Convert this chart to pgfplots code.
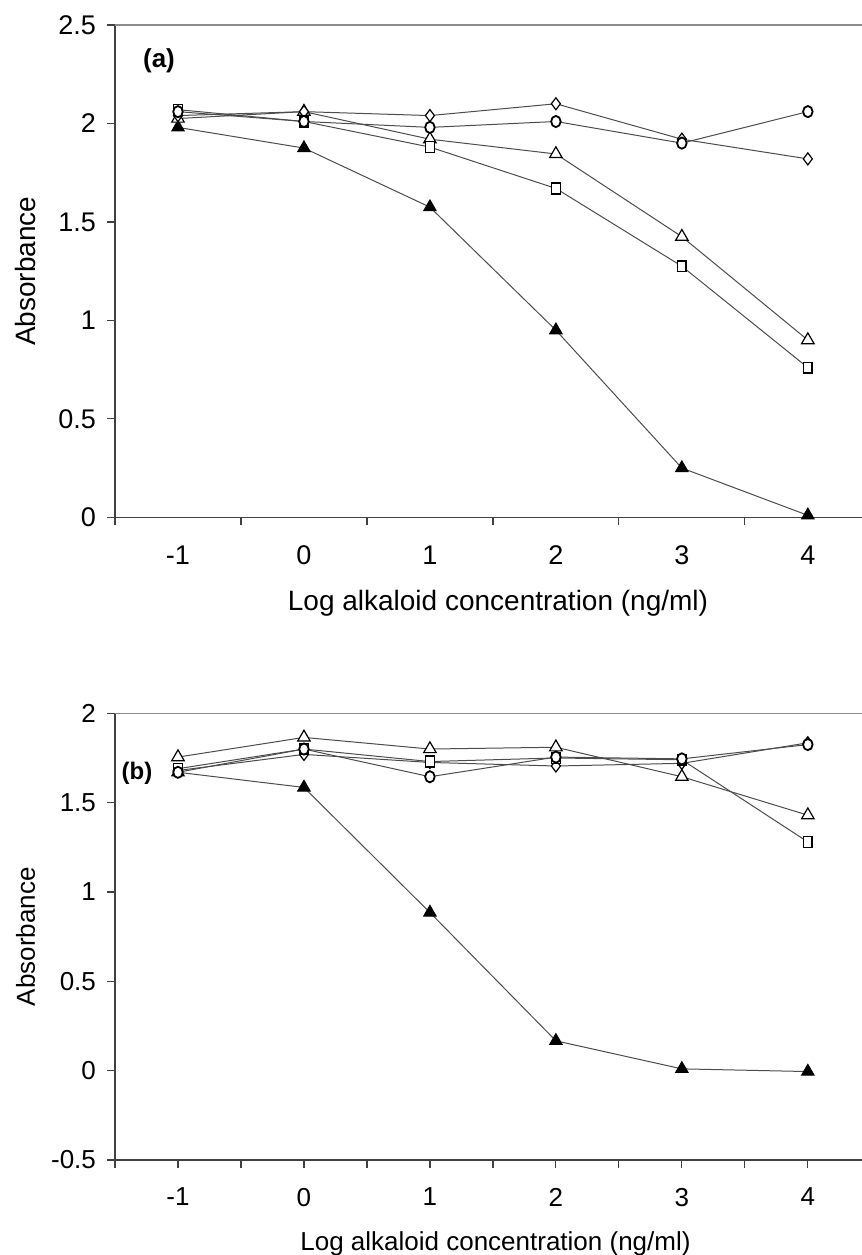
\documentclass[border=0pt]{standalone}
\usepackage{fontspec}
\setmainfont{Liberation Sans}
\usepackage{pgfplots}
\pgfplotsset{compat=1.18}

\pgfplotsset{
  panel/.style={
    scale only axis, width=373.5pt,
    xmin=-1.5, xmax=4.43,
    axis x line*=bottom, axis y line*=left,
    axis line style={black!75, line width=0.6pt, -},
    tick style={black!75, line width=0.6pt},
    tick align=outside, major tick length=4pt, minor tick length=4pt,
    xtick={-1,0,1,2,3,4}, xticklabels={-1,0,1,2,3,4},
    /pgf/number format/assume math mode=true,
    ylabel={Absorbance},
    xlabel={Log alkaloid concentration (ng/ml)},
    ylabel style={anchor=base, at={([xshift=-40pt]axis description cs:0,0.5)}},
    clip=false,
  },
  ser/.style={black!70, line width=0.5pt},
  m-tri/.style={ser, mark=triangle*, mark size=3.6pt, mark options={draw=black, fill=white, line width=0.6pt}},
  m-ftri/.style={ser, mark=triangle*, mark size=3.6pt, mark options={draw=black, fill=black}},
  m-dia/.style={ser, mark=diamond*, mark size=3pt, mark options={draw=black, fill=white, line width=0.6pt}},
  m-sq/.style={ser, mark=square*, mark size=2.7pt, mark options={draw=black, fill=white, line width=0.7pt, xscale=0.8}},
  m-circ/.style={ser, mark=*, mark size=2.8pt, mark options={draw=black, fill=white, line width=0.9pt, xscale=0.85}},
}

\begin{document}
\begin{tikzpicture}
\useasboundingbox (0,0) rectangle (431pt,627.5pt);

% panel (a)
\begin{axis}[panel,
  at={(57.5pt,368.85pt)}, anchor=south west,
  height=246.15pt, ymin=0, ymax=2.5,
  ytick={0,0.5,1,1.5,2,2.5}, yticklabels={0,0.5,1,1.5,2,2.5},
  major x tick style={draw=none},
  minor xtick={-1.5,-0.5,0.5,1.5,2.5,3.5},
  xticklabel style={font=\fontsize{13.5}{15}\selectfont, yshift=-6.8pt},
  yticklabel style={font=\fontsize{13.5}{15}\selectfont, xshift=-2pt},
  xlabel style={font=\fontsize{14}{16}\selectfont, anchor=base, at={([xshift=4.75pt, yshift=-46.85pt]axis description cs:0.5,0)}},
  ylabel style={font=\fontsize{14}{16}\selectfont},
]
\draw[black!45, line width=0.6pt] (rel axis cs:0,1) -- (rel axis cs:1,1);
\addplot[m-ftri] coordinates {(-1,1.98) (0,1.875) (1,1.575) (2,0.95) (3,0.25) (4,0.01)};
\addplot[m-tri]  coordinates {(-1,2.025) (0,2.06) (1,1.92) (2,1.845) (3,1.425) (4,0.90)};
\addplot[m-dia]  coordinates {(-1,2.04) (0,2.06) (1,2.04) (2,2.10) (3,1.92) (4,1.82)};
\addplot[m-sq]   coordinates {(-1,2.07) (0,2.01) (1,1.88) (2,1.67) (3,1.275) (4,0.76)};
\addplot[m-circ] coordinates {(-1,2.06) (0,2.01) (1,1.98) (2,2.01) (3,1.90) (4,2.06)};
\node[font=\bfseries\fontsize{13}{15}\selectfont] at (axis description cs:0.0589,0.927) {(a)};
\end{axis}

% panel (b)
\begin{axis}[panel,
  at={(57.5pt,47.5pt)}, anchor=south west,
  height=223.35pt, ymin=-0.5, ymax=2,
  ytick={-0.5,0,0.5,1,1.5,2}, yticklabels={-0.5,0,0.5,1,1.5,2},
  minor xtick={-1.5,-0.5,0.5,1.5,2.5,3.5},
  xticklabel style={font=\fontsize{13}{15}\selectfont, yshift=-6.5pt},
  yticklabel style={font=\fontsize{13}{15}\selectfont, xshift=-2pt},
  xlabel style={font=\fontsize{13}{15}\selectfont, anchor=base, at={([xshift=3.5pt, yshift=-45pt]axis description cs:0.5,0)}},
  ylabel style={font=\fontsize{13}{15}\selectfont},
]
\draw[black!45, line width=0.6pt] (rel axis cs:0,1) -- (rel axis cs:1,1);
\addplot[m-ftri] coordinates {(-1,1.67) (0,1.585) (1,0.885) (2,0.167) (3,0.01) (4,-0.005)};
\addplot[m-tri]  coordinates {(-1,1.755) (0,1.865) (1,1.80) (2,1.81) (3,1.645) (4,1.43)};
\addplot[m-dia]  coordinates {(-1,1.68) (0,1.77) (1,1.725) (2,1.705) (3,1.72) (4,1.835)};
\addplot[m-sq]   coordinates {(-1,1.69) (0,1.80) (1,1.73) (2,1.75) (3,1.74) (4,1.28)};
\addplot[m-circ] coordinates {(-1,1.67) (0,1.80) (1,1.645) (2,1.755) (3,1.745) (4,1.825)};
\node[font=\bfseries\fontsize{12}{14}\selectfont] at (axis description cs:0.0295,0.866) {(b)};
\end{axis}
\end{tikzpicture}
\end{document}
